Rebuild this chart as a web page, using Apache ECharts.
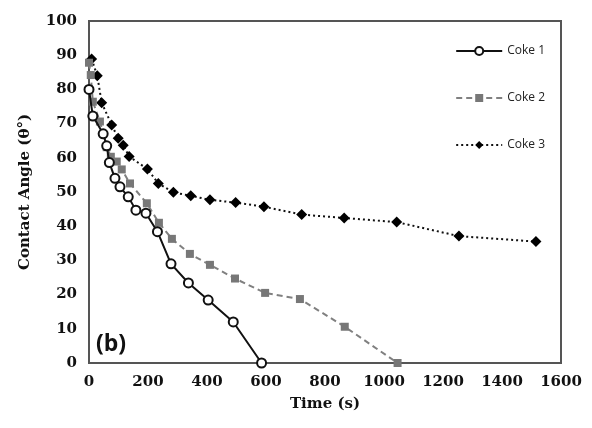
<!DOCTYPE html>
<html>
<head>
<meta charset="utf-8">
<script src="https://cdn.jsdelivr.net/npm/echarts@6/dist/echarts.min.js"></script>
<style>html,body{margin:0;padding:0;background:#fff;}#c{width:592px;height:428px;}</style>
</head>
<body>
<div id="c"></div>
<script>
var seriesNames = ['Coke 1', 'Coke 2', 'Coke 3'];
var coke1Time  = [0, 13, 48, 60, 69, 88, 105, 133, 159, 193, 232, 278, 337, 404, 489, 585];
var coke1Angle = [80, 72.2, 67, 63.5, 58.6, 54, 51.5, 48.6, 44.7, 43.8, 38.4, 29, 23.4, 18.4, 12, 0];
var coke2Time  = [0, 6, 13, 37, 60, 74, 94, 111, 139, 196, 237, 281, 342, 410, 495, 597, 715, 867, 1046];
var coke2Angle = [87.8, 84.2, 76.4, 70.6, 63.1, 60.3, 58.9, 56.6, 52.5, 46.7, 41, 36.3, 31.9, 28.7, 24.7, 20.5, 18.7, 10.6, 0];
var coke3Time  = [9, 28, 43, 77, 99, 116, 136, 198, 235, 286, 345, 410, 497, 593, 721, 865, 1043, 1254, 1515];
var coke3Angle = [88.9, 84, 76.1, 69.6, 65.7, 63.7, 60.4, 56.7, 52.5, 49.9, 48.9, 47.7, 46.9, 45.7, 43.4, 42.4, 41.2, 37.1, 35.5];
var xTicks = [0, 200, 400, 600, 800, 1000, 1200, 1400, 1600];
var yTicks = [0, 10, 20, 30, 40, 50, 60, 70, 80, 90, 100];

function zip(a, b) { return a.map(function (v, i) { return [v, b[i]]; }); }

var chart = echarts.init(document.getElementById('c'));
var lblFont = {fontFamily: 'DejaVu Serif', fontWeight: 'bold', fontSize: 15, color: '#111'};
chart.setOption({
  animation: false,
  grid: {left: 89, right: 31, top: 21, bottom: 65, show: true, borderColor: '#555', borderWidth: 2, backgroundColor: 'transparent'},
  legend: {
    orient: 'vertical', right: 42, top: 40, itemGap: 35, itemWidth: 46, itemHeight: 10,
    data: seriesNames,
    textStyle: {fontFamily: 'Open Sans', fontSize: 12, color: '#222'}
  },
  xAxis: {
    type: 'value', min: xTicks[0], max: xTicks[xTicks.length - 1], interval: 200,
    name: 'Time (s)', nameLocation: 'middle', nameGap: 34,
    nameTextStyle: {fontFamily: 'DejaVu Serif', fontWeight: 'bold', fontSize: 15, color: '#111'},
    axisLine: {lineStyle: {color: '#555', width: 2}},
    axisTick: {show: false}, splitLine: {show: false},
    axisLabel: Object.assign({margin: 12, formatter: function (v) { return String(v); }}, lblFont)
  },
  yAxis: {
    type: 'value', min: yTicks[0], max: yTicks[yTicks.length - 1], interval: 10,
    name: 'Contact Angle (θ°)', nameLocation: 'middle', nameGap: 56,
    nameTextStyle: {fontFamily: 'DejaVu Serif', fontWeight: 'bold', fontSize: 15, color: '#111'},
    axisLine: {show: true, lineStyle: {color: '#555', width: 2}},
    axisTick: {show: false}, splitLine: {show: false},
    axisLabel: Object.assign({margin: 12, formatter: function (v) { return String(v); }}, lblFont)
  },
  graphic: [{
    type: 'text', left: 96, top: 333,
    style: {text: '(b)', fontFamily: 'Open Sans', fontWeight: 'bold', fontSize: 23, fill: '#111'}
  }],
  series: [
    {
      name: seriesNames[0], type: 'line', data: zip(coke1Time, coke1Angle), z: 4,
      symbol: 'circle', symbolSize: 9,
      lineStyle: {color: '#111', width: 2, type: 'solid'},
      itemStyle: {color: '#fff', borderColor: '#111', borderWidth: 2}
    },
    {
      name: seriesNames[1], type: 'line', data: zip(coke2Time, coke2Angle), z: 3,
      symbol: 'rect', symbolSize: 8,
      lineStyle: {color: '#808080', width: 2, type: [6, 4]},
      itemStyle: {color: '#777', borderWidth: 0}
    },
    {
      name: seriesNames[2], type: 'line', data: zip(coke3Time, coke3Angle), z: 2,
      symbol: 'diamond', symbolSize: 11,
      lineStyle: {color: '#111', width: 2, type: [2, 3]},
      itemStyle: {color: '#000', borderWidth: 0}
    }
  ]
});
</script>
</body>
</html>
